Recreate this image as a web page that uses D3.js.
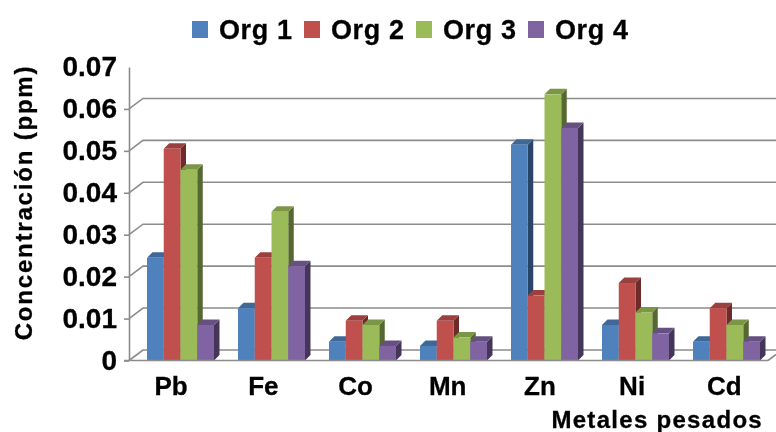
<!DOCTYPE html>
<html>
<head>
<meta charset="utf-8">
<script src="https://cdn.jsdelivr.net/npm/d3@7"></script>
<style>
  html, body { margin: 0; padding: 0; background: #fff; }
  svg { display: block; filter: blur(0.7px); }
  text { font-family: "Liberation Sans", Arial, sans-serif; font-weight: bold; fill: #000; stroke: #000; stroke-width: 0.3px; }
</style>
</head>
<body>
<div id="chart-container"></div>
<script>
// Values
var metals = ["Pb", "Fe", "Co", "Mn", "Zn", "Ni", "Cd"];
var seriesNames = ["Org 1", "Org 2", "Org 3", "Org 4"];
var org1 = [0.024, 0.012, 0.004, 0.003, 0.051, 0.008, 0.004];
var org2 = [0.050, 0.024, 0.009, 0.009, 0.015, 0.018, 0.012];
var org3 = [0.045, 0.035, 0.008, 0.005, 0.063, 0.011, 0.008];
var org4 = [0.008, 0.022, 0.003, 0.004, 0.055, 0.006, 0.004];
var yTicks = [0, 0.01, 0.02, 0.03, 0.04, 0.05, 0.06, 0.07];
var gridTicks = [0, 0.01, 0.02, 0.03, 0.04, 0.05, 0.06];

var allSeries = [org1, org2, org3, org4];
var frontColors = ["#4f81bd", "#c0504d", "#9bbb59", "#8064a2"];
var topColors = ["#3f6797", "#9a403e", "#7c9647", "#665082"];
var sideColors = ["#2a4568", "#6d2b29", "#566831", "#453659"];

var width = 776, height = 432;
var axisX = 129, baseY = 360.5, topY = 67, rightX = 768;
var backDx = 14, backDy = 10.5;   // offset of the back wall
var barDepth = 5.5;
var barLift = 2;   // bars stand a little behind the front axis

var svg = d3.select("#chart-container")
            .append("svg")
            .attr("width", width)
            .attr("height", height);

// Scales
var y = d3.scaleLinear().domain([0, 0.07]).range([baseY, topY]);
var x0 = d3.scaleBand().domain(metals).range([axisX, axisX + 7 * 91]);
var x1 = d3.scaleBand().domain(seriesNames).range([18, 85]);
var xLabel = d3.scaleBand().domain(metals).range([125, 125 + 7 * 92.2]);

// Back wall gridlines with their little diagonal going to the front axis
var grid = svg.append("g").attr("fill", "none").attr("stroke", "#8c8c8c").attr("stroke-width", 1.6);
gridTicks.forEach(function(t) {
    var line = d3.line();
    grid.append("path").attr("d", line([
        [axisX, y(t)],
        [axisX + backDx, y(t) - backDy],
        [width, y(t) - backDy]
    ]));
});

// Bars, drawn category by category so later bars cover the side of earlier ones
metals.forEach(function(metal, i) {
    var g = svg.append("g").attr("transform", "translate(" + x0(metal) + ",0)");
    seriesNames.forEach(function(name, s) {
        var v = allSeries[s][i];
        var bx = x1(name), bw = x1.bandwidth();
        var barTop = y(v) - barLift;
        var line = d3.line();
        g.append("path")   // side face
         .attr("fill", sideColors[s])
         .attr("d", line([
            [bx + bw, barTop],
            [bx + bw + barDepth, barTop - barDepth],
            [bx + bw + barDepth, y(0) - barDepth],
            [bx + bw, y(0)]
         ]) + "Z");
        g.append("path")   // top face
         .attr("fill", topColors[s])
         .attr("d", line([
            [bx, barTop],
            [bx + barDepth, barTop - barDepth],
            [bx + bw + barDepth, barTop - barDepth],
            [bx + bw, barTop]
         ]) + "Z");
        g.append("rect")   // front face
         .attr("x", bx)
         .attr("y", barTop)
         .attr("width", bw)
         .attr("height", y(0) - barTop)
         .attr("fill", frontColors[s]);
    });
});

// Front axes
var yAxis = d3.axisLeft(y)
              .tickValues(yTicks)
              .tickSize(0)
              .tickPadding(12)
              .tickFormat(function(d) { return d === 0 ? "0" : d.toFixed(2); });
var yG = svg.append("g")
            .attr("transform", "translate(" + axisX + ",0)")
            .call(yAxis);
yG.select(".domain").attr("stroke", "#8c8c8c").attr("stroke-width", 1.6);
yG.selectAll("text").style("font-size", "28px").attr("dy", "0.31em");
yG.selectAll(".tick")
  .filter(function(d) { return d < 0.07; })
  .append("line")
  .attr("x1", -5).attr("x2", 0)
  .attr("stroke", "#8c8c8c").attr("stroke-width", 1.6);

var xAxis = d3.axisBottom(xLabel).tickSize(0).tickPadding(16);
var xG = svg.append("g")
            .attr("transform", "translate(0," + baseY + ")")
            .call(xAxis);
xG.select(".domain").remove();
xG.selectAll("text").style("font-size", "26px");

svg.append("line")
   .attr("x1", axisX - 5).attr("x2", rightX)
   .attr("y1", baseY).attr("y2", baseY)
   .attr("stroke", "#8c8c8c").attr("stroke-width", 1.6);
svg.append("line")
   .attr("x1", rightX).attr("x2", width)
   .attr("y1", baseY).attr("y2", baseY - 6)
   .attr("stroke", "#8c8c8c").attr("stroke-width", 1.6);

// Axis titles
svg.append("text")
   .attr("transform", "translate(32,202.5) rotate(-90)")
   .style("text-anchor", "middle")
   .style("font-size", "24px")
   .style("letter-spacing", "1.8px")
   .text("Concentración (ppm)");

svg.append("text")
   .attr("x", 763)
   .attr("y", 428)
   .style("text-anchor", "end")
   .style("font-size", "24px")
   .style("letter-spacing", "1.3px")
   .text("Metales pesados");

// Legend
var legendX = d3.scalePoint().domain(seriesNames).range([192, 528]);
seriesNames.forEach(function(name, s) {
    svg.append("rect")
       .attr("x", legendX(name))
       .attr("y", 21)
       .attr("width", 16)
       .attr("height", 17)
       .attr("fill", frontColors[s]);
    svg.append("text")
       .attr("x", legendX(name) + 27)
       .attr("y", 39)
       .style("font-size", "27px")
       .style("letter-spacing", "0.6px")
       .text(name);
});
</script>
</body>
</html>
